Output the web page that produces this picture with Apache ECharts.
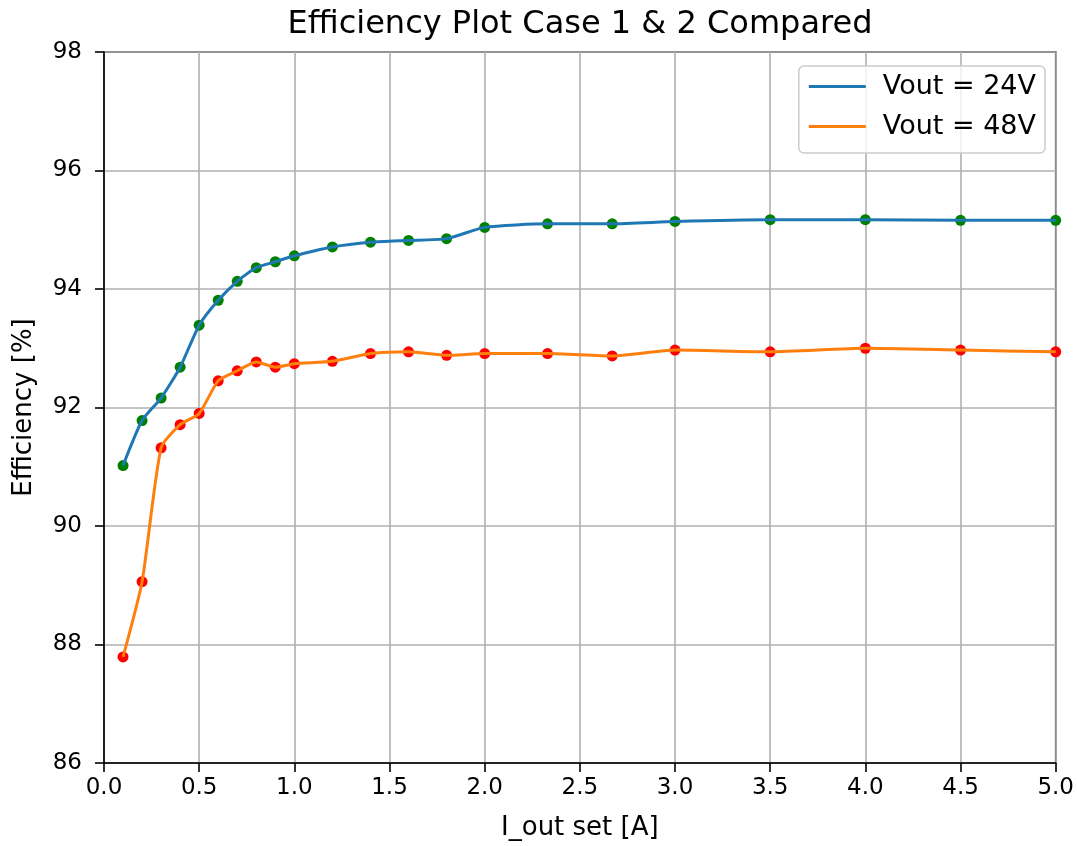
<!DOCTYPE html>
<html>
<head>
<meta charset="utf-8">
<script src="https://cdn.jsdelivr.net/npm/echarts@6/dist/echarts.min.js"></script>
<style>html,body{margin:0;padding:0;background:#fff;}#c{width:1077px;height:846px;}</style>
</head>
<body>
<div id="c"></div>
<script>
const currents = [0.1, 0.2, 0.3, 0.4, 0.5, 0.6, 0.7, 0.8, 0.9, 1.0, 1.2, 1.4, 1.6, 1.8, 2.0, 2.33, 2.67, 3.0, 3.5, 4.0, 4.5, 5.0];
const eff24 = [91.02, 91.78, 92.16, 92.68, 93.39, 93.81, 94.13, 94.36, 94.46, 94.56, 94.71, 94.79, 94.82, 94.85, 95.04, 95.10, 95.10, 95.14, 95.17, 95.17, 95.16, 95.16];
const eff48 = [87.79, 89.06, 91.32, 91.71, 91.90, 92.45, 92.62, 92.77, 92.68, 92.74, 92.78, 92.91, 92.94, 92.88, 92.91, 92.91, 92.87, 92.97, 92.94, 93.00, 92.97, 92.94];
const seriesNames = ['Vout = 24V', 'Vout = 48V'];
const titleText = 'Efficiency Plot Case 1 & 2 Compared';
const xLabel = 'I_out set [A]';
const yLabel = 'Efficiency [%]';

const pairs = (xs, ys) => xs.map((x, i) => [x, ys[i]]);
const FONT = 'DejaVu Sans';

const chart = echarts.init(document.getElementById('c'), null, {renderer: 'canvas'});
chart.setOption({
  animation: false,
  backgroundColor: '#fff',
  title: {
    text: titleText, left: 575, top: 4, textAlign: 'center',
    textStyle: {fontFamily: FONT, fontSize: 32, fontWeight: 'normal', color: '#000'}
  },
  grid: {left: 104, right: 19, top: 52, bottom: 81, show: true, borderColor: '#000', borderWidth: 1.6, backgroundColor: 'transparent'},
  legend: {
    data: seriesNames, orient: 'vertical', right: 32, top: 66,
    icon: 'rect', itemWidth: 57, itemHeight: 3, itemGap: 13,
    padding: [7, 9, 13, 10],
    backgroundColor: 'rgba(255,255,255,0.8)', borderColor: '#cccccc', borderWidth: 1.5, borderRadius: 5,
    textStyle: {fontFamily: FONT, fontSize: 27, color: '#000', padding: [0, 0, 0, 12]}
  },
  xAxis: {
    type: 'value', min: 0, max: 5, interval: 0.5,
    name: xLabel, nameLocation: 'middle', nameGap: 52,
    nameTextStyle: {fontFamily: FONT, fontSize: 26, color: '#000'},
    axisLine: {show: true, onZero: false, lineStyle: {color: '#000', width: 1.6}},
    axisTick: {show: true, inside: false, length: 9, lineStyle: {color: '#000', width: 1.6}},
    axisLabel: {fontFamily: FONT, fontSize: 23, color: '#000', margin: 14, formatter: v => v.toFixed(1)},
    splitLine: {show: true, lineStyle: {color: '#b0b0b0', width: 1.6}}
  },
  yAxis: {
    type: 'value', min: 86, max: 98, interval: 2,
    name: yLabel, nameLocation: 'middle', nameGap: 67, nameRotate: 90,
    nameTextStyle: {fontFamily: FONT, fontSize: 26, color: '#000'},
    axisLine: {show: true, lineStyle: {color: '#000', width: 1.6}},
    axisTick: {show: true, inside: false, length: 9, lineStyle: {color: '#000', width: 1.6}},
    axisLabel: {fontFamily: FONT, fontSize: 23, color: '#000', margin: 22},
    splitLine: {show: true, lineStyle: {color: '#b0b0b0', width: 1.6}}
  },
  series: [
    {type: 'scatter', data: pairs(currents, eff24), symbolSize: 11, itemStyle: {color: '#008000', opacity: 1}, z: 2, silent: true},
    {type: 'scatter', data: pairs(currents, eff48), symbolSize: 11, itemStyle: {color: '#ff0000', opacity: 1}, z: 2, silent: true},
    {name: seriesNames[0], type: 'line', data: pairs(currents, eff24), smooth: 0.2, showSymbol: false, symbol: 'none',
     lineStyle: {color: '#1f77b4', width: 3}, itemStyle: {color: '#1f77b4'}, z: 3},
    {name: seriesNames[1], type: 'line', data: pairs(currents, eff48), smooth: 0.2, showSymbol: false, symbol: 'none',
     lineStyle: {color: '#ff7f0e', width: 3}, itemStyle: {color: '#ff7f0e'}, z: 3}
  ]
});
</script>
</body>
</html>
